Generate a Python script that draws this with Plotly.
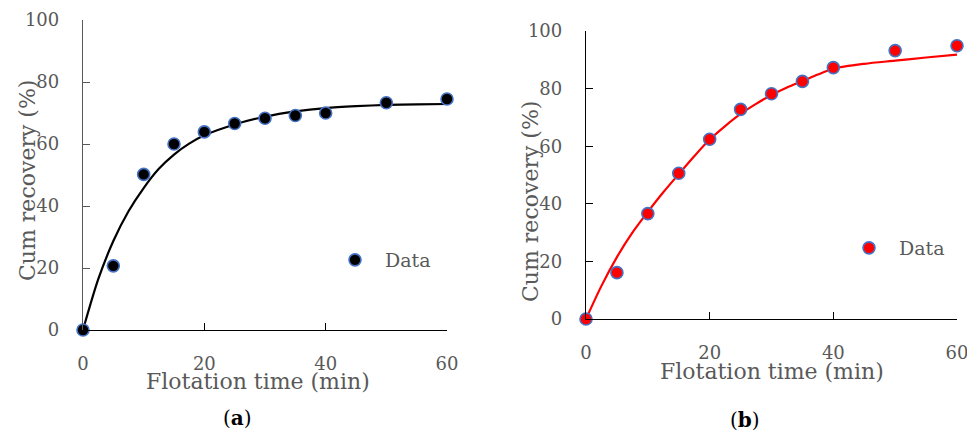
import plotly.graph_objects as go

# ---- data ----
time_min = [0, 5, 10, 15, 20, 25, 30, 35, 40, 50, 60]
recovery_a = [0, 20.7, 50.2, 60.0, 63.9, 66.6, 68.3, 69.2, 70.0, 73.3, 74.5]
recovery_b = [0, 16.1, 36.6, 50.6, 62.4, 72.8, 78.2, 82.5, 87.3, 93.2, 94.9]

fit_time_a = [0, 2.5, 5, 7.5, 10, 12.5, 15, 17.5, 20, 25, 30, 35, 40, 45, 50, 55, 60]
fit_a = [0, 16.3, 28.7, 38.3, 45.8, 52.0, 56.6, 60.1, 62.8, 66.3, 68.8, 70.5, 71.6, 72.2, 72.6, 72.8, 72.9]

fit_time_b = [0, 2.5, 5, 7.5, 10, 12.5, 15, 17.5, 20, 22.5, 25, 27.5, 30, 32.5, 35, 37.5, 40, 45, 50, 55, 60]
fit_b = [0, 11.5, 21.5, 30.0, 37.2, 44.0, 50.3, 56.5, 62.3, 67.0, 71.2, 74.7, 77.8, 80.4, 82.6, 84.9, 86.9, 88.6, 89.7, 90.8, 91.8]

x_ticks = [0, 20, 40, 60]
y_ticks = [0, 20, 40, 60, 80, 100]
x_title = "Flotation time (min)"
y_title = "Cum recovery (%)"
legend_label = "Data"
panel_labels = ["(<b>a</b>)", "(<b>b</b>)"]

# page content starts after the 8px body margin
OFF = 8
W, H = 975 - OFF, 432 - OFF
FONT = "DejaVu Serif"
GREY = "#595959"
EDGE = "#4472C4"

def px(x):
    return (x - OFF) / W

def py(y):
    return 1 - (y - OFF) / H

fig = go.Figure()

# panel (a)
fig.add_trace(go.Scatter(x=fit_time_a, y=fit_a, mode="lines",
                         line=dict(color="black", width=2.2, shape="spline", smoothing=0.8),
                         showlegend=False, xaxis="x", yaxis="y", hoverinfo="skip"))
fig.add_trace(go.Scatter(x=time_min, y=recovery_a, mode="markers", name=legend_label,
                         marker=dict(color="black", size=12, line=dict(color=EDGE, width=1.6)),
                         cliponaxis=False, xaxis="x", yaxis="y", legend="legend"))
# panel (b)
fig.add_trace(go.Scatter(x=fit_time_b, y=fit_b, mode="lines",
                         line=dict(color="#FF0000", width=2.2, shape="spline", smoothing=0.8),
                         showlegend=False, xaxis="x2", yaxis="y2", hoverinfo="skip"))
fig.add_trace(go.Scatter(x=time_min, y=recovery_b, mode="markers", name=legend_label,
                         marker=dict(color="#FF0000", size=12, line=dict(color=EDGE, width=1.6)),
                         cliponaxis=False, xaxis="x2", yaxis="y2", legend="legend2"))

tickfont = dict(family=FONT, size=18, color=GREY)

def xaxis(domain, anchor):
    return dict(domain=domain, anchor=anchor, range=[0, 60], tickvals=x_ticks,
                ticks="inside", ticklen=7, tickwidth=1.2, tickcolor="black",
                showline=True, linecolor="black", linewidth=1.3,
                showgrid=False, zeroline=False, tickfont=tickfont,
                ticklabelstandoff=17, automargin=False)

def yaxis(domain, anchor, color):
    return dict(domain=domain, anchor=anchor, range=[0, 100], tickvals=y_ticks,
                ticks="inside", ticklen=7, tickwidth=1.2, tickcolor=color,
                showline=True, linecolor=color, linewidth=1.3,
                showgrid=False, zeroline=False, tickfont=tickfont,
                ticklabelstandoff=19, automargin=False)

legend_common = dict(font=dict(family=FONT, size=19, color=GREY),
                     bgcolor="rgba(0,0,0,0)", itemwidth=50,
                     xanchor="left", yanchor="middle")

def label(text, x, y, size, color, angle=0):
    return dict(text=text, x=px(x), y=py(y), xref="paper", yref="paper",
                xanchor="center", yanchor="middle", textangle=angle,
                showarrow=False, font=dict(family=FONT, size=size, color=color))

fig.update_layout(
    width=W, height=H,
    margin=dict(l=0, r=0, t=0, b=0, pad=0, autoexpand=False),
    paper_bgcolor="white", plot_bgcolor="white",
    xaxis=xaxis([px(83), px(447)], "y"),
    yaxis=yaxis([py(330), py(20)], "x", GREY),
    xaxis2=xaxis([px(586), px(957)], "y2"),
    yaxis2=yaxis([py(319), py(31)], "x2", "black"),
    legend=dict(x=px(325), y=py(260), **legend_common),
    legend2=dict(x=px(839), y=py(248), **legend_common),
    annotations=[
        label(x_title, 258, 381, 22, GREY),
        label(x_title, 772, 371, 22, GREY),
        label(y_title, 28, 181, 22, GREY, -90),
        label(y_title, 531, 202, 22, GREY, -90),
        label(panel_labels[0], 237, 418, 20, "black"),
        label(panel_labels[1], 745, 420, 20, "black"),
    ],
)

fig.write_html("out.html")
